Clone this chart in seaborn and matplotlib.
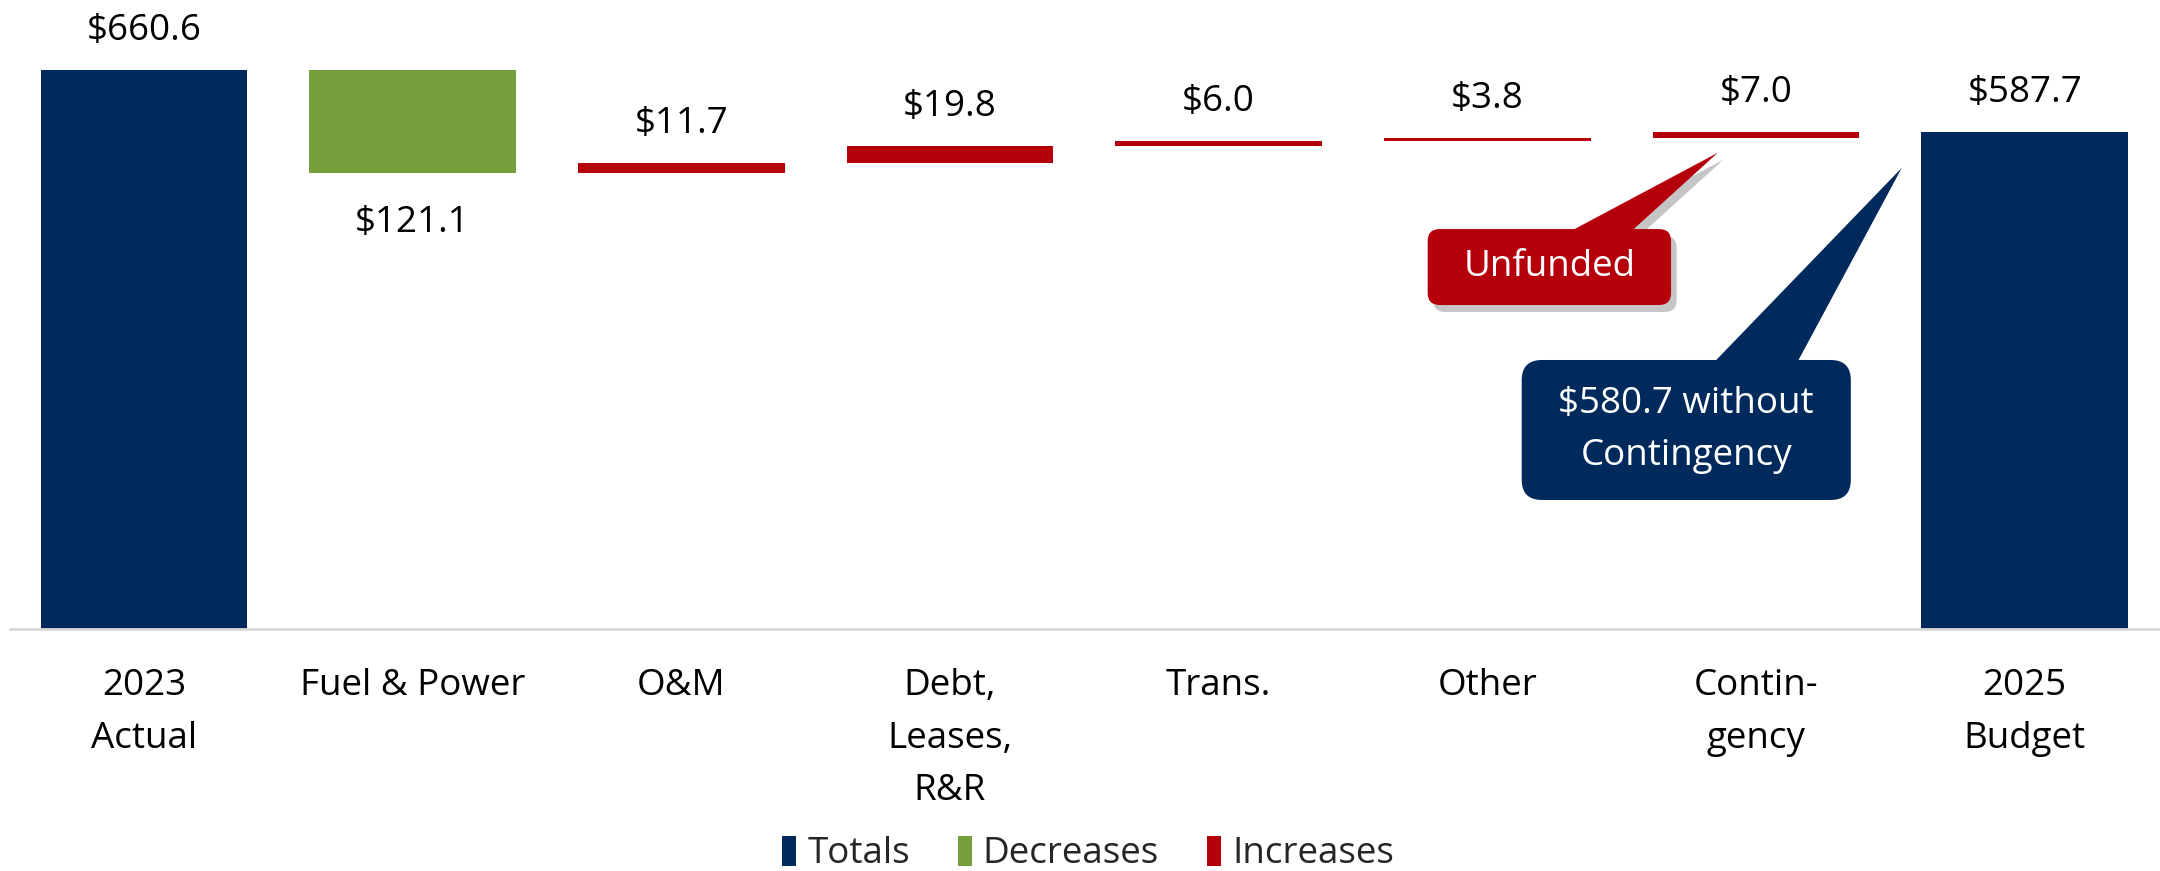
import numpy as np
import pandas as pd
import matplotlib
matplotlib.use("Agg")
import matplotlib.pyplot as plt
import seaborn as sns
from matplotlib.patches import FancyBboxPatch, Polygon, Patch
from matplotlib import patheffects as pe

# ---------------- data ----------------
categories = ["2023\nActual", "Fuel & Power", "O&M", "Debt,\nLeases,\nR&R",
              "Trans.", "Other", "Contin-\ngency", "2025\nBudget"]
values = [660.6, -121.1, 11.7, 19.8, 6.0, 3.8, 7.0, 587.7]
kinds = ["Totals", "Decreases", "Increases", "Increases", "Increases",
         "Increases", "Increases", "Totals"]
legend_labels = ["Totals", "Decreases", "Increases"]
callout_unfunded = "Unfunded"
callout_total = "$580.7 without\nContingency"

NAVY = "#002A5C"
GREEN = "#76A03C"
RED = "#B5000B"
colors = {"Totals": NAVY, "Decreases": GREEN, "Increases": RED}
FS = 26.5

# waterfall geometry from the values
rows = []
running = 0.0
for cat, v, k in zip(categories, values, kinds):
    if k == "Totals":
        bottom, top = 0.0, v
        running = v
    else:
        start, end = running, running + v
        bottom, top = min(start, end), max(start, end)
        running = end
    rows.append(dict(category=cat, kind=k, value=v, bottom=bottom, top=top,
                     height=top - bottom))
df = pd.DataFrame(rows)

# ---------------- figure ----------------
sns.set_style("white")
plt.rcParams["font.family"] = ["Open Sans", "DejaVu Sans"]

fig = plt.figure(figsize=(21.6, 8.71), dpi=100)
ax = fig.add_axes([0.00444, 0.2773, 0.9951, 0.7001])

for k in legend_labels:
    sub = df[df["kind"] == k]
    sns.barplot(data=sub, x="category", y="height", order=categories,
                bottom=sub["bottom"].to_numpy(), color=colors[k], saturation=1,
                width=0.769, errorbar=None, linewidth=0, ax=ax)

ax.set_xlim(-0.5, 7.5)
ax.set_ylim(0, 720)
ax.set_xlabel("")
ax.set_ylabel("")
ax.set_yticks([])
sns.despine(ax=ax, left=True)
ax.spines["bottom"].set_color("#D9D9D9")
ax.spines["bottom"].set_linewidth(2)
ax.tick_params(axis="x", length=0, pad=28, labelsize=FS, colors="black")
for lbl in ax.get_xticklabels():
    lbl.set_linespacing(1.6)

# value labels
for i, r in df.iterrows():
    txt = f"${abs(r['value']):.1f}"
    if r["kind"] == "Decreases":
        ax.annotate(txt, (i, r["bottom"]), xytext=(0, -42.6),
                    textcoords="offset points", ha="center", va="baseline",
                    fontsize=FS, color="black")
    else:
        ax.annotate(txt, (i, r["top"]), xytext=(0, 21.6),
                    textcoords="offset points", ha="center", va="baseline",
                    fontsize=FS, color="black")

# aspect for rounded corners in data coords
p0 = ax.transData.transform((0, 0))
p1 = ax.transData.transform((1, 1))
px_per_x = p1[0] - p0[0]
px_per_y = p1[1] - p0[1]
aspect = px_per_x / px_per_y


def callout(box, base, tip, text, fc, radius, shadow):
    x0, x1, y0, y1 = box
    wedge = Polygon([(base[0], y1 - 2), tip, (base[1], y1 - 2)], closed=True,
                    fc=fc, ec="none", zorder=5)
    bx = FancyBboxPatch((x0, y0), x1 - x0, y1 - y0,
                        boxstyle=f"round,pad=0,rounding_size={radius}",
                        mutation_aspect=aspect, fc=fc, ec="none", zorder=6)
    if shadow:
        eff = [pe.SimplePatchShadow(offset=(4, -5), shadow_rgbFace="#7f7f7f",
                                    alpha=0.45), pe.Normal()]
        wedge.set_path_effects(eff)
        bx.set_path_effects(eff)
    ax.add_patch(wedge)
    ax.add_patch(bx)
    ax.text((x0 + x1) / 2, (y0 + y1) / 2, text, ha="center", va="center",
            fontsize=FS, color="white", linespacing=1.6, zorder=7)


callout((4.778, 5.684, 383.1, 472.8), (5.313, 5.538), (5.858, 562.9),
        callout_unfunded, RED, 0.045, True)
callout((5.128, 6.353, 152.9, 318.2), (5.846, 6.155), (6.543, 545.2),
        callout_total, NAVY, 0.075, False)

handles = [Patch(facecolor=colors[k], edgecolor="none", label=k)
           for k in legend_labels]
fig.legend(handles=handles, loc="center", bbox_to_anchor=(0.5037, 0.0195),
           ncol=3, frameon=False, fontsize=FS, handlelength=0.38,
           handleheight=0.88, handletextpad=0.3, columnspacing=1.3,
           borderpad=0.1)

fig.savefig("out.png", dpi=100)
